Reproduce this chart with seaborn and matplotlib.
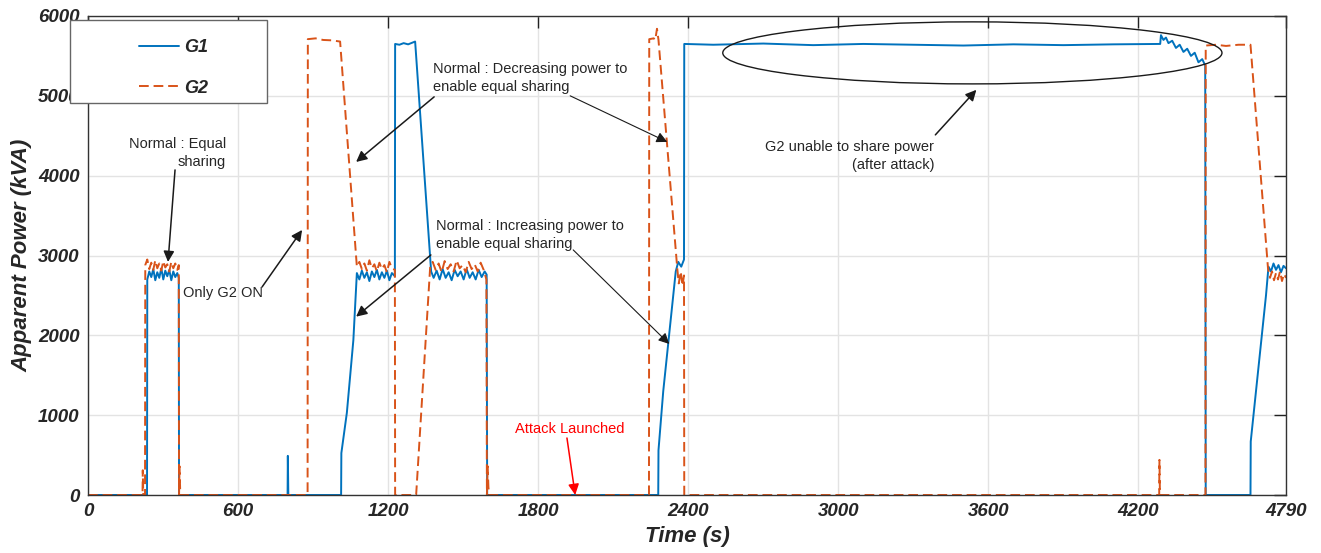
import matplotlib
matplotlib.use("Agg")
import matplotlib.pyplot as plt
import numpy as np
import pandas as pd
import seaborn as sns
from matplotlib.lines import Line2D
from matplotlib.patches import Ellipse, Rectangle

# ---- data (time in s, apparent power in kVA) ----
g1_time = [
    0, 236,
    237, 245, 253, 261, 269, 277, 285, 293, 301, 309, 317, 325, 333, 341, 349, 357, 363, 364,
    798, 799, 801,
    1012, 1013, 1035, 1061, 1075,
    1085, 1095, 1105, 1115, 1125, 1135, 1145, 1155, 1165, 1175, 1185, 1195, 1205, 1215, 1227,
    1228, 1245, 1262, 1280, 1296, 1308, 1372,
    1382, 1394, 1406, 1418, 1430, 1442, 1454, 1466, 1478, 1490, 1502, 1514, 1526, 1538, 1550,
    1562, 1574, 1586, 1594, 1596,
    2280, 2281, 2300, 2330, 2350, 2360, 2372, 2383,
    2384, 2500, 2700, 2900, 3100, 3300, 3500, 3700, 3900, 4100, 4287,
    4290, 4300, 4310, 4320, 4335, 4350, 4365, 4380, 4395, 4410, 4425, 4440, 4455, 4467, 4469,
    4648, 4649, 4670, 4690, 4710, 4720,
    4730, 4740, 4750, 4760, 4770, 4780, 4790,
]
g1_power = [
    0, 0,
    2700, 2800, 2730, 2830, 2690, 2790, 2720, 2840, 2700, 2810, 2740, 2820, 2690, 2800, 2730, 2780, 2720, 0,
    0, 490, 0,
    0, 525, 1030, 1940, 2780,
    2700, 2810, 2720, 2790, 2680, 2800, 2730, 2820, 2700, 2790, 2720, 2810, 2690, 2780, 2740,
    5650, 5640, 5660, 5645, 5665, 5680, 2800,
    2720, 2810, 2700, 2830, 2720, 2790, 2690, 2820, 2740, 2800, 2700, 2830, 2720, 2790, 2700,
    2820, 2730, 2800, 2760, 0,
    0, 560, 1300, 2200, 2800, 2920, 2860, 2950,
    5650, 5640, 5655, 5635, 5650, 5640, 5630, 5645, 5635, 5645, 5650,
    5760, 5700, 5730, 5660, 5690, 5600, 5640, 5550, 5590, 5500, 5540, 5420, 5460, 5380, 0,
    0, 670, 1300, 1900, 2500, 2860,
    2800, 2900, 2820, 2880, 2790, 2870, 2840,
]

g2_time = [
    0, 218, 219, 221, 228,
    229, 237, 245, 253, 261, 269, 277, 285, 293, 301, 309, 317, 325, 333, 341, 349, 357, 363,
    364, 366, 369,
    878, 879, 910, 940, 975, 1008, 1075,
    1085, 1095, 1105, 1115, 1125, 1135, 1145, 1155, 1165, 1175, 1185, 1195, 1205, 1215, 1227, 1228,
    1312, 1368,
    1378, 1390, 1402, 1414, 1426, 1438, 1450, 1462, 1474, 1486, 1498, 1510, 1522, 1534, 1546,
    1558, 1570, 1582, 1593, 1595, 1598, 1601, 1604,
    2243, 2244, 2262, 2268, 2275, 2281, 2356, 2362, 2370, 2377, 2383, 2384,
    4283, 4284, 4286,
    4468, 4469, 4510, 4550, 4600, 4648, 4718,
    4726, 4734, 4742, 4750, 4758, 4766, 4774, 4782, 4790,
]
g2_power = [
    0, 0, 310, 0, 0,
    2880, 2950, 2830, 2910, 2820, 2940, 2840, 2900, 2810, 2930, 2850, 2890, 2800, 2920, 2840, 2900, 2820, 2880,
    0, 360, 0,
    0, 5710, 5720, 5700, 5695, 5680, 2860,
    2920, 2830, 2900, 2810, 2940, 2840, 2890, 2800, 2910, 2830, 2880, 2790, 2920, 2840, 2820, 0,
    0, 2850,
    2920, 2820, 2900, 2790, 2930, 2830, 2890, 2800, 2940, 2840, 2880, 2790, 2920, 2830, 2890,
    2800, 2910, 2820, 2700, 0, 360, 100, 0,
    0, 5710, 5720, 5700, 5840, 5700, 2840, 2650, 2800, 2620, 2750, 0,
    0, 440, 0,
    0, 5630, 5640, 5625, 5640, 5640, 2840,
    2720, 2800, 2690, 2780, 2700, 2800, 2680, 2770, 2720,
]

x_ticks = [0, 600, 1200, 1800, 2400, 3000, 3600, 4200, 4790]
y_ticks = [0, 1000, 2000, 3000, 4000, 5000, 6000]

BLUE = "#0072BD"
ORANGE = "#D95319"

sns.set_theme(style="whitegrid")
plt.rcParams["font.family"] = ["Liberation Sans", "DejaVu Sans"]

df = pd.concat([
    pd.DataFrame({"t": g1_time, "p": g1_power, "gen": "G1"}),
    pd.DataFrame({"t": g2_time, "p": g2_power, "gen": "G2"}),
], ignore_index=True)

fig = plt.figure(figsize=(13.21, 5.53), dpi=100)
ax = fig.add_axes([88 / 1321, 58 / 553, 1198 / 1321, 479 / 553])

sns.lineplot(data=df, x="t", y="p", hue="gen", style="gen",
             palette={"G1": BLUE, "G2": ORANGE},
             dashes={"G1": "", "G2": (5, 2.5)},
             estimator=None, sort=False, lw=1.4, legend=False, ax=ax)

ax.set_xlim(0, 4790)
ax.set_ylim(0, 6000)
ax.set_xticks(x_ticks)
ax.set_yticks(y_ticks)
ax.grid(True, color="#e3e3e3", lw=1.0)
for s in ax.spines.values():
    s.set_color("#333333")
    s.set_linewidth(1.0)
ax.tick_params(direction="in", length=8.5, width=1.0, color="#222222",
               top=True, right=True, labelsize=13.5, pad=6)
for lab in ax.get_xticklabels() + ax.get_yticklabels():
    lab.set_fontweight("bold")
    lab.set_fontstyle("italic")
ax.set_xlabel("Time (s)", fontsize=16, fontweight="bold", fontstyle="italic", labelpad=4)
ax.set_ylabel("Apparent Power (kVA)", fontsize=16, fontweight="bold", fontstyle="italic", labelpad=4)

# ---- annotations ----
ann_fs = 10.5
arrow = dict(arrowstyle="-|>", color="k", lw=1.1, mutation_scale=16, shrinkA=0, shrinkB=0)
thin = dict(arrowstyle="-|>", color="k", lw=0.8, mutation_scale=16, shrinkA=0, shrinkB=0)

ax.text(552, 4285, "Normal : Equal\nsharing", ha="right", va="center",
        multialignment="right", fontsize=ann_fs, linespacing=1.35)
ax.annotate("", xy=(320, 2919), xytext=(348, 4072), arrowprops=arrow)

ax.text(380, 2531, "Only G2 ON", ha="left", va="center", fontsize=ann_fs)
ax.annotate("", xy=(856, 3320), xytext=(696, 2606), arrowprops=arrow)

ax.text(1380, 5219, "Normal : Decreasing power to\nenable equal sharing", ha="left",
        va="center", fontsize=ann_fs, linespacing=1.35)
ax.annotate("", xy=(1072, 4172), xytext=(1384, 4987), arrowprops=arrow)
ax.annotate("", xy=(2316, 4423), xytext=(1928, 5000), arrowprops=thin)

ax.text(1392, 3252, "Normal : Increasing power to\nenable equal sharing", ha="left",
        va="center", fontsize=ann_fs, linespacing=1.35)
ax.annotate("", xy=(1072, 2234), xytext=(1371, 3007), arrowprops=arrow)
ax.annotate("", xy=(2324, 1892), xytext=(1940, 3070), arrowprops=thin)

ax.text(3384, 4248, "G2 unable to share power\n(after attack)", ha="right", va="center",
        multialignment="right", fontsize=ann_fs, linespacing=1.35)
ax.annotate("", xy=(3552, 5075), xytext=(3388, 4511), arrowprops=arrow)
ax.add_patch(Ellipse((3536, 5538), 1996, 777, fill=False, ec="k", lw=1.0, zorder=4))

ax.text(1928, 827, "Attack Launched", ha="center", va="center", fontsize=ann_fs, color="red")
ax.annotate("", xy=(1948, 0), xytext=(1915, 714),
            arrowprops=dict(arrowstyle="-|>", color="red", lw=1.1, mutation_scale=16,
                            shrinkA=0, shrinkB=0))

# ---- legend box (MATLAB style, overlapping the axes corner) ----
fig.add_artist(Rectangle((70 / 1321, 1 - 103 / 553), 197 / 1321, 83 / 553,
                         transform=fig.transFigure, fc="white", ec="#666666", lw=1.0, zorder=3))
handles = [Line2D([], [], color=BLUE, lw=1.4),
           Line2D([], [], color=ORANGE, lw=1.4, dashes=(5, 2.5))]
fig.legend(handles, ["G1", "G2"], loc="upper left", bbox_to_anchor=(130 / 1321, 1 - 30 / 553),
           frameon=False, handlelength=2.2, handletextpad=0.3, labelspacing=1.3,
           borderpad=0, prop=dict(size=13, weight="bold", style="italic"))

fig.savefig("out.png", dpi=100)
